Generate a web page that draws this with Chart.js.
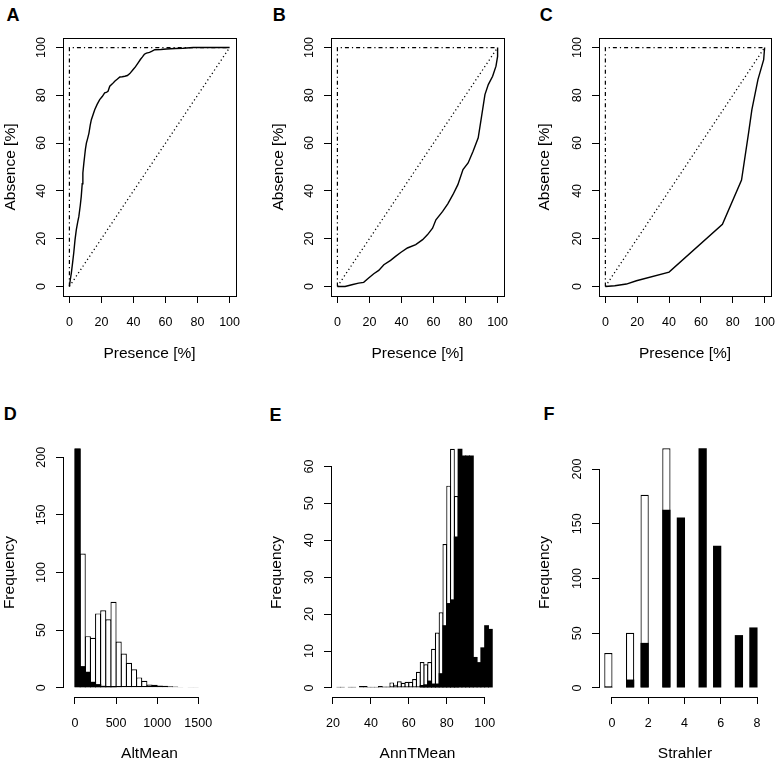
<!DOCTYPE html>
<html><head><meta charset="utf-8">
<script src="https://cdn.jsdelivr.net/npm/chart.js@4.4.0/dist/chart.umd.min.js"></script>
<style>
html,body{margin:0;padding:0;background:#fff;}
#wrap{position:relative;width:778px;height:763px;overflow:hidden;background:#fff;}
#wrap canvas{position:absolute;}
.lbl{position:absolute;font:bold 18px "Liberation Sans",Arial,sans-serif;color:#000;line-height:18px;}
</style></head><body>
<div id="wrap">
  <div class="lbl" style="left:6.5px;top:6px">A</div>
  <div class="lbl" style="left:272.7px;top:5.5px">B</div>
  <div class="lbl" style="left:539.8px;top:5.5px">C</div>
  <div class="lbl" style="left:3.7px;top:405px">D</div>
  <div class="lbl" style="left:269.4px;top:406px">E</div>
  <div class="lbl" style="left:543.4px;top:405px">F</div>
</div>
<script>
// ---------------- DATA ----------------
const ROC_TICKS = [0, 20, 40, 60, 80, 100];

// Panel A curve (Presence %, Absence %)
const A_PRESENCE = [0, 0.6, 1.2, 2.0, 2.7, 3.5, 4.3, 5.2, 5.9, 6.8, 7.4, 8.0, 8.4, 9.0, 9.5, 10.0, 10.6, 11.4, 12.2, 13.0, 13.7, 14.8, 15.8, 17.3, 18.9, 20.5, 22.0, 23.0, 24.1, 25.2, 26.8, 28.3, 30.0, 31.5, 33.0, 34.6, 36.2, 37.7, 39.8, 41.3, 42.9, 44.3, 45.6, 46.8, 48.1, 50.0, 51.3, 53.3, 57.0, 60.6, 66.0, 71.0, 77.3, 88.0, 100];
const A_ABSENCE  = [0, 3.0, 5.6, 10.0, 14.0, 19.5, 23.7, 27.0, 29.3, 34.0, 37.7, 43.0, 47.5, 51.5, 54.5, 57.5, 60.0, 62.0, 64.2, 67.5, 69.8, 72.0, 74.0, 76.2, 78.2, 79.5, 81.0, 81.2, 81.7, 83.8, 84.8, 85.9, 86.8, 87.7, 87.8, 88.0, 88.3, 89.1, 90.8, 92.0, 93.6, 95.0, 96.1, 97.2, 97.7, 98.0, 98.4, 99.1, 99.2, 99.4, 99.6, 99.7, 100, 100, 100];

// Panel B curve
const B_PRESENCE = [0, 4.8, 9.0, 13.2, 16.4, 19.5, 22.7, 25.8, 29.0, 33.2, 36.3, 39.5, 43.7, 48.9, 53.2, 56.3, 59.4, 61.5, 65.7, 68.9, 72.1, 75.2, 78.4, 81.6, 84.7, 87.9, 90.0, 92.1, 94.2, 96.9, 99.0, 100, 100];
const B_ABSENCE  = [0, 0, 0.7, 1.4, 1.7, 3.5, 5.3, 6.7, 9.1, 10.9, 12.6, 14.2, 16.1, 17.5, 19.6, 21.7, 24.4, 27.9, 31.4, 34.6, 38.4, 42.6, 48.9, 51.7, 56.6, 62.2, 71.2, 80.3, 84.5, 88.0, 92.2, 96.3, 100];

// Panel C curve
const C_PRESENCE = [0, 5.9, 13.2, 19.5, 40, 73.5, 85.5, 89.9, 92, 95.8, 99.4, 100];
const C_ABSENCE  = [0, 0.3, 1.0, 2.4, 6, 26, 44.5, 64.2, 74, 86.6, 94.9, 100];

// Reference lines
const DIAG_X = [0, 100];
const DIAG_Y = [0, 100];
const PERFECT_X = [0, 0, 100];
const PERFECT_Y = [0, 100, 100];

// Panel D: AltMean histogram
const ALT_TICKS_X = [0, 500, 1000, 1500];
const ALT_TICKS_Y = [0, 50, 100, 150, 200];
const ALT_BINS = [31.25, 93.75, 156.25, 218.75, 281.25, 343.75, 406.25, 468.75, 531.25, 593.75, 656.25, 718.75, 781.25, 843.75, 906.25, 968.75, 1031.25, 1093.75, 1156.25, 1218.75, 1281.25, 1343.75, 1406.25, 1468.75, 1531.25, 1593.75, 1656.25, 1718.75, 1781.25, 1843.75];
const ALT_OPEN   = [207.5, 116.5, 44.8, 43.3, 64.5, 67.3, 59.5, 74.6, 40.2, 29.8, 21.7, 16, 9, 6.1, 2.9, 2.6, 2, 1.7, 1.4, 1.1, 0.6, 0.4, 0.6, 0.6, 0.4, 0, 0.4, 0, 0.4, 0.4];
const ALT_FILLED = [207.5, 18.8, 13.9, 5.2, 3.2, 1.7, 1, 1.5, 0.5, 0, 0, 0, 0, 0, 0, 0, 0, 0, 0, 0, 0, 0, 0, 0, 0, 0, 0, 0, 0, 0];

// Panel E: AnnTMean histogram
const TEMP_TICKS_X = [20, 40, 60, 80, 100];
const TEMP_TICKS_Y = [0, 10, 20, 30, 40, 50, 60];
const TEMP_BINS = [23, 25, 27, 29, 31, 33, 35, 37, 39, 41, 43, 45, 47, 49, 51, 53, 55, 57, 59, 61, 63, 65, 67, 69, 71, 73, 75, 77, 79, 81, 83, 85, 87, 89, 91, 93, 95, 97, 99, 101, 103];
const TEMP_OPEN   = [0.3, 0.3, 0, 0.3, 0.3, 0, 0.5, 0.5, 0.3, 0.3, 0.3, 0.5, 0.4, 0.4, 1.5, 0.9, 1.8, 1.4, 1.7, 1.7, 2.4, 4.4, 7.0, 6.4, 7.0, 10.6, 15, 20.5, 39, 54.8, 64.8, 52, 0, 0, 0, 0, 0, 0, 0, 0, 0];
const TEMP_FILLED = [0, 0, 0, 0, 0, 0, 0, 0, 0, 0, 0, 0, 0, 0, 0, 0, 0, 0, 0, 0, 0, 0, 0.8, 1, 2, 1.2, 1.2, 4, 17, 23, 24, 41, 64.8, 63, 63, 63, 8.4, 7, 11, 17, 16];

// Panel F: Strahler histogram
const STR_TICKS_X = [0, 2, 4, 6, 8];
const STR_TICKS_Y = [0, 50, 100, 150, 200];
const STR_BINS   = [-0.2, 1.0, 1.8, 3.0, 3.8, 5.0, 5.8, 7.0, 7.8];
const STR_OPEN   = [32, 50.5, 176.5, 219, 0, 0, 0, 0, 0];
const STR_FILLED = [1, 7.7, 41.2, 162.7, 155.7, 219, 130, 48.3, 55.3];

// ---------------- RENDERING ----------------
const FAMILY = '"Liberation Sans", Arial, Helvetica, sans-serif';
const TICK_PX = 12.5, TITLE_PX = 15.5, TICK_LEN = 7;
Chart.defaults.font.family = FAMILY;
Chart.defaults.color = '#000';

const mctx = document.createElement('canvas').getContext('2d');
function textWidth(t, px) { mctx.font = px + 'px ' + FAMILY; return mctx.measureText(t).width; }
const pts = (xs, ys) => xs.map((x, i) => ({x, y: ys[i]}));
const align = p => Math.round(p - 0.5) + 0.5;

const framePlugin = {
  id: 'frame',
  afterDatasetsDraw(chart) {
    const a = chart.chartArea, ctx = chart.ctx;
    ctx.save(); ctx.strokeStyle = '#000'; ctx.lineWidth = 1;
    const l = align(a.left), t = align(a.top), r = align(a.right), b = align(a.bottom);
    ctx.strokeRect(l, t, r - l, b - t);
    ctx.restore();
  }
};
const axisLinePlugin = {
  id: 'axisLines',
  afterDraw(chart) {
    const a = chart.chartArea, ctx = chart.ctx, xs = chart.scales.x, ys = chart.scales.y;
    ctx.save(); ctx.strokeStyle = '#000'; ctx.lineWidth = 1;
    const xt = xs.ticks, yt = ys.ticks;
    const by = align(a.bottom);
    ctx.beginPath();
    ctx.moveTo(align(xs.getPixelForValue(xt[0].value)) - 0.5, by);
    ctx.lineTo(align(xs.getPixelForValue(xt[xt.length - 1].value)) + 0.5, by);
    const lx = align(a.left);
    ctx.moveTo(lx, align(ys.getPixelForValue(yt[0].value)) + 0.5);
    ctx.lineTo(lx, align(ys.getPixelForValue(yt[yt.length - 1].value)) - 0.5);
    ctx.stroke();
    ctx.restore();
  }
};

const wrap = document.getElementById('wrap');

function panel(cfg) {
  const {box, area} = cfg;
  const c = document.createElement('canvas');
  c.width = box.w; c.height = box.h;
  c.style.left = box.x + 'px'; c.style.top = box.y + 'px';
  c.style.width = box.w + 'px'; c.style.height = box.h + 'px';
  wrap.appendChild(c);

  const lhTitle = TITLE_PX * 1.2, lhTick = TICK_PX * 1.2;
  const widest = Math.max(...cfg.yTicks.map(v => textWidth(String(v), TICK_PX)));
  const yTickPad = 21.3 - TICK_LEN - widest / 2;
  const xTickPad = (cfg.xTickCY - area.b) - TICK_LEN - lhTick / 2;
  const xTitlePadB = (box.y + box.h) - lhTitle / 2 - cfg.xTitleCY;
  const yTitlePadT = cfg.yTitleCX - box.x - lhTitle / 2;
  const yAxisW = area.l - box.x;
  const xAxisH = (box.y + box.h) - area.b;
  const grid = {display: true, drawOnChartArea: false, drawTicks: true, tickLength: TICK_LEN, color: '#000', lineWidth: 1, offset: false};

  new Chart(c, {
    type: cfg.type,
    data: {datasets: cfg.datasets},
    options: {
      responsive: false, animation: false, devicePixelRatio: 1, events: [],
      layout: {padding: {left: 0, top: area.t - box.y, right: box.x + box.w - area.r, bottom: 0}},
      plugins: {legend: {display: false}, tooltip: {enabled: false}, title: {display: false}},
      scales: {
        x: {
          type: 'linear', position: 'bottom', min: cfg.xMin, max: cfg.xMax, offset: false,
          afterBuildTicks: s => { s.ticks = cfg.xTicks.map(v => ({value: v})); },
          afterFit: s => { s.height = xAxisH; s.paddingLeft = 0; s.paddingRight = 0; },
          grid, border: {display: false},
          ticks: {color: '#000', font: {size: TICK_PX}, padding: xTickPad, maxRotation: 0, minRotation: 0, autoSkip: false, callback: v => String(v)},
          title: {display: true, text: cfg.xTitle, color: '#000', font: {size: TITLE_PX}, padding: {top: 0, bottom: xTitlePadB}}
        },
        y: {
          type: 'linear', position: 'left', min: cfg.yMin, max: cfg.yMax,
          afterBuildTicks: s => { s.ticks = cfg.yTicks.map(v => ({value: v})); },
          afterFit: s => { s.width = yAxisW; s.paddingTop = 0; s.paddingBottom = 0; },
          grid, border: {display: false},
          ticks: {color: '#000', font: {size: TICK_PX}, padding: yTickPad, minRotation: 90, maxRotation: 90, crossAlign: 'center', autoSkip: false, callback: v => String(v)},
          title: {display: true, text: cfg.yTitle, color: '#000', font: {size: TITLE_PX}, padding: {top: yTitlePadT, bottom: 0}}
        }
      }
    },
    plugins: [cfg.frame ? framePlugin : axisLinePlugin]
  });
}

function rocDatasets(px, py) {
  const base = {borderColor: '#000', pointRadius: 0, tension: 0, fill: false, showLine: true};
  return [
    Object.assign({}, base, {label: 'curve', data: pts(px, py), borderWidth: 1.4, order: 1}),
    Object.assign({}, base, {label: 'random', data: pts(DIAG_X, DIAG_Y), borderWidth: 1.3, borderDash: [1.2, 2.8], order: 2}),
    Object.assign({}, base, {label: 'perfect', data: pts(PERFECT_X, PERFECT_Y), borderWidth: 1.2, borderDash: [4, 3, 1.2, 3], order: 3})
  ];
}

function histDatasets(bins, open, filled, pct) {
  const base = {borderColor: '#000', borderSkipped: false, grouped: false, categoryPercentage: 1, barPercentage: pct, clip: 0, inflateAmount: 0};
  return [
    Object.assign({}, base, {label: 'filled', data: pts(bins, filled), backgroundColor: '#000', borderWidth: 0, order: 1}),
    Object.assign({}, base, {label: 'open', data: pts(bins, open), backgroundColor: '#fff', borderWidth: 1.2, order: 2})
  ];
}

const TOP = {y: 0, h: 381, t: 38, b: 296, xTickCY: 322.7, xTitleCY: 353.3};
const BOT = {y: 381, h: 382, t: 448, b: 697, xTickCY: 723.3, xTitleCY: 753.3};
const COLS = [
  {x: 0, w: 259, l: 63, r: 236},
  {x: 259, w: 259, l: 331, r: 504},
  {x: 518, w: 260, l: 599, r: 771}
];

function mk(row, col, extra) {
  return Object.assign({
    box: {x: col.x, y: row.y, w: col.w, h: row.h},
    area: {l: col.l, r: col.r, t: row.t, b: row.b},
    xTickCY: row.xTickCY, xTitleCY: row.xTitleCY
  }, extra);
}

// Top row
[[A_PRESENCE, A_ABSENCE, 11], [B_PRESENCE, B_ABSENCE, 278.3], [C_PRESENCE, C_ABSENCE, 545]].forEach((d, i) => {
  panel(mk(TOP, COLS[i], {
    type: 'line', frame: true, yTitleCX: d[2],
    xMin: -4, xMax: 104, yMin: -4, yMax: 104,
    xTicks: ROC_TICKS, yTicks: ROC_TICKS,
    xTitle: 'Presence [%]', yTitle: 'Absence [%]',
    datasets: rocDatasets(d[0], d[1])
  }));
});

// Bottom row
function barPct(binW, col, xMin, xMax) {
  const px = binW * (col.r - col.l) / (xMax - xMin);
  return (px + 1) / px;
}
panel(mk(BOT, COLS[0], {
  type: 'bar', frame: false, yTitleCX: 9.5,
  xMin: -146, xMax: 1959, yMin: -8, yMax: 208,
  xTicks: ALT_TICKS_X, yTicks: ALT_TICKS_Y,
  xTitle: 'AltMean', yTitle: 'Frequency',
  datasets: histDatasets(ALT_BINS, ALT_OPEN, ALT_FILLED, barPct(62.5, COLS[0], -146, 1959))
}));
panel(mk(BOT, COLS[1], {
  type: 'bar', frame: false, yTitleCX: 277,
  xMin: 18.95, xMax: 110.2, yMin: -2.45, yMax: 65,
  xTicks: TEMP_TICKS_X, yTicks: TEMP_TICKS_Y,
  xTitle: 'AnnTMean', yTitle: 'Frequency',
  datasets: histDatasets(TEMP_BINS, TEMP_OPEN, TEMP_FILLED, barPct(2, COLS[1], 18.95, 110.2))
}));
(function () {
  const col = COLS[2], xMin = -0.717, xMax = 8.77;
  const spacing = 0.8 * (col.r - col.l) / (xMax - xMin);
  const barW = 0.4 * (col.r - col.l) / (xMax - xMin);
  panel(mk(BOT, col, {
    type: 'bar', frame: false, yTitleCX: 545,
    xMin, xMax, yMin: -8.24, yMax: 219.2,
    xTicks: STR_TICKS_X, yTicks: STR_TICKS_Y,
    xTitle: 'Strahler', yTitle: 'Frequency',
    datasets: histDatasets(STR_BINS, STR_OPEN, STR_FILLED, (barW + 1) / spacing)
  }));
})();
</script>
</body></html>
